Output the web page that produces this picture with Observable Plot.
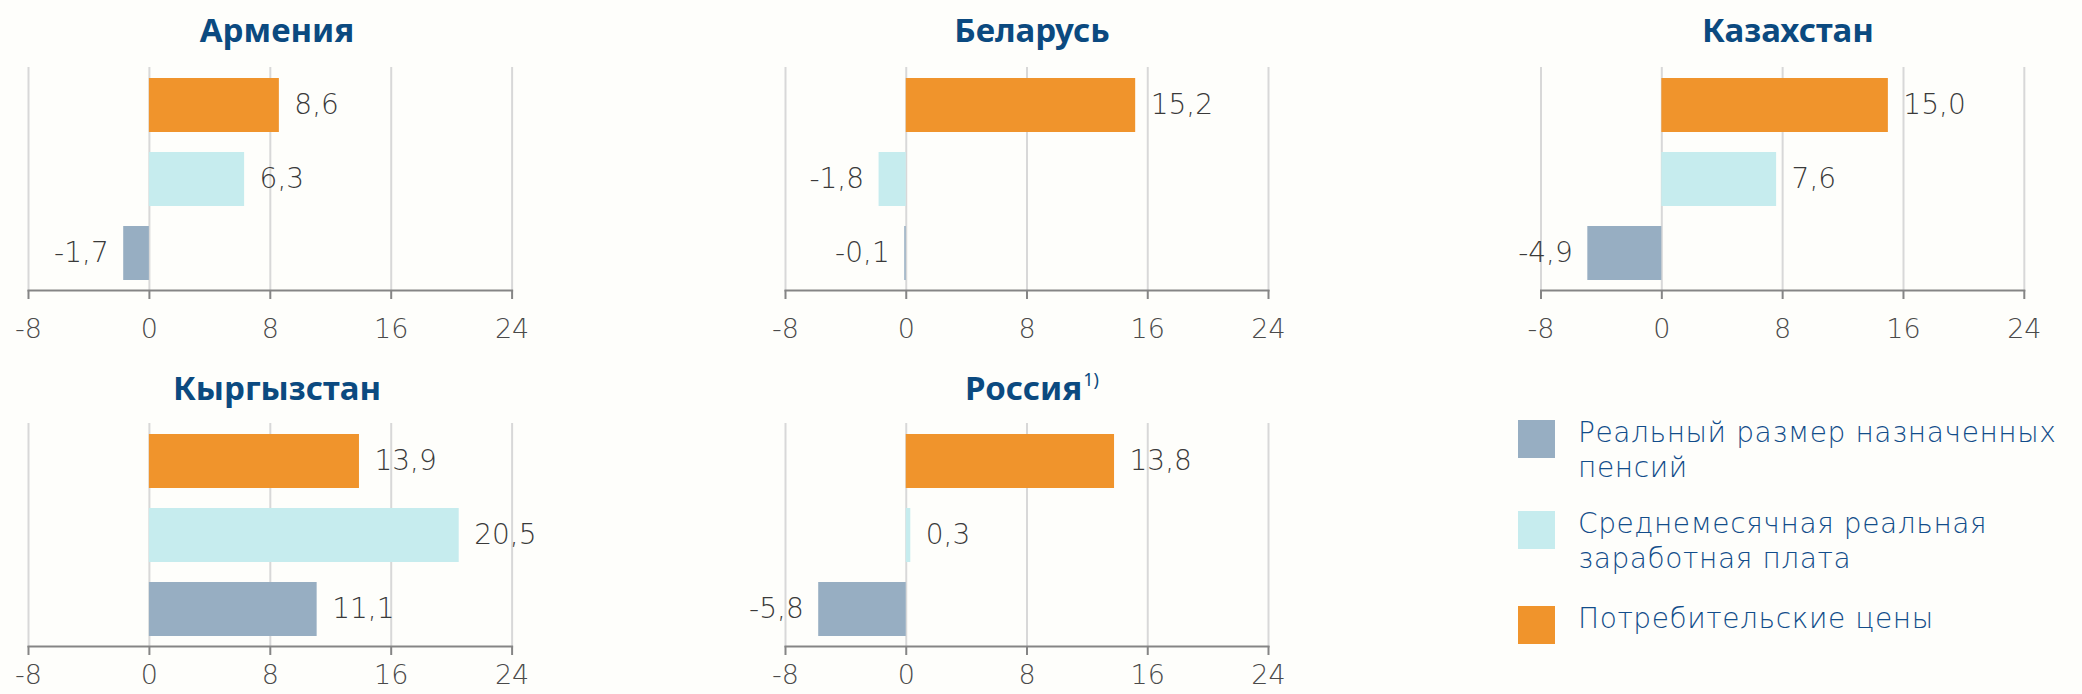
<!DOCTYPE html>
<html>
<head>
<meta charset="utf-8">
<script src="https://cdn.jsdelivr.net/npm/d3@7"></script>
<script src="https://cdn.jsdelivr.net/npm/@observablehq/plot@0.6"></script>
<style>
  html, body { margin: 0; padding: 0; background: #fefefb; }
  #root { position: relative; width: 2082px; height: 694px; overflow: hidden; background: #fefefb; }
  .panel { position: absolute; }
  .title { position: absolute; transform: translate(-50%, -50%); white-space: nowrap;
           font-family: "Noto Sans", "DejaVu Sans", sans-serif; font-weight: 700; font-size: 33px; color: #0b4a80; }
  .title sup { font-size: 18px; font-weight: 400; vertical-align: 0; position: relative; top: -14px; margin-left: 1px; }
  .lg-sw { position: absolute; width: 37px; height: 38px; }
  .lg-tx { position: absolute; font-family: "DejaVu Sans", sans-serif; font-weight: 200; font-size: 28px;
           line-height: 35px; color: #124d8a; white-space: nowrap; letter-spacing: 0.6px; }
</style>
</head>
<body>
<div id="root"></div>
<script>
// ---- data ----
const countries = ["Армения", "Беларусь", "Казахстан", "Кыргызстан", "Россия"];
const seriesNames = ["Потребительские цены", "Среднемесячная реальная заработная плата", "Реальный размер назначенных пенсий"];
const seriesColors = ["#f0942c", "#c6ecee", "#97aec2"];
const cpiValues     = [8.6, 15.2, 15.0, 13.9, 13.8];
const wageValues    = [6.3, -1.8, 7.6, 20.5, 0.3];
const pensionValues = [-1.7, -0.1, -4.9, 11.1, -5.8];
const xTicks = [-8, 0, 8, 16, 24];
const titleNotes = ["", "", "", "", "1)"];
const legendOrder = [2, 1, 0];
const legendLines = [["Потребительские цены"], ["Среднемесячная реальная", "заработная плата"], ["Реальный размер назначенных", "пенсий"]];

// ---- layout ----
const panels = [
  {left: 0,    top: 45,  width: 560, ml: 28,   mr: 48.4, tx: 277,  ty: 29,  pad: 19},
  {left: 740,  top: 45,  width: 560, ml: 45,   mr: 32,   tx: 1032, ty: 29,  pad: 19},
  {left: 1500, top: 45,  width: 582, ml: 40.5, mr: 58.2, tx: 1788, ty: 29,  pad: 19},
  {left: 0,    top: 401, width: 560, ml: 28,   mr: 48.4, tx: 277,  ty: 387, pad: 9},
  {left: 740,  top: 401, width: 560, ml: 45,   mr: 32,   tx: 1032, ty: 387, pad: 9}
];

const root = document.getElementById("root");
const fmt = v => v.toFixed(1).replace(".", ",");
const numFont = "'DejaVu Sans', sans-serif";

countries.forEach((c, i) => {
  const vals = [cpiValues[i], wageValues[i], pensionValues[i]];
  const data = seriesNames.map((s, k) => ({series: s, value: vals[k]}));
  const p = panels[i];
  const chart = Plot.plot({
    width: p.width, height: 300,
    marginLeft: p.ml, marginRight: p.mr, marginTop: 22, marginBottom: 55,
    style: {background: "transparent", fontFamily: numFont, fontSize: "26px", fontWeight: 200, color: "#444", overflow: "visible"},
    x: {domain: [-8, 24], label: null},
    y: {domain: seriesNames, axis: null, paddingInner: 0.275, paddingOuter: 0.135},
    color: {domain: seriesNames, range: seriesColors},
    marks: [
      Plot.ruleX(xTicks, {stroke: "#d8d8d8", strokeWidth: 2}),
      Plot.barX(data, {x: "value", y: "series", fill: "series"}),
      Plot.text(data.filter(d => d.value >= 0), {x: "value", y: "series", text: d => fmt(d.value), textAnchor: "start", dx: 15, fill: "#3a3a3a", fontSize: 28}),
      Plot.text(data.filter(d => d.value < 0), {x: "value", y: "series", text: d => fmt(d.value), textAnchor: "end", dx: -15, fill: "#3a3a3a", fontSize: 28}),
      Plot.frame({anchor: "bottom", stroke: "#858585", strokeWidth: 2}),
      Plot.axisX({ticks: xTicks, tickFormat: d => String(d), tickSize: 9, tickPadding: p.pad, stroke: "#858585", strokeWidth: 2, fill: "#4a4a4a", fontSize: 27})
    ]
  });
  const div = document.createElement("div");
  div.className = "panel";
  div.style.left = p.left + "px";
  div.style.top = p.top + "px";
  div.appendChild(chart);
  root.appendChild(div);

  const t = document.createElement("div");
  t.className = "title";
  t.style.left = p.tx + "px";
  t.style.top = p.ty + "px";
  t.textContent = c;
  if (titleNotes[i]) {
    const s = document.createElement("sup");
    s.textContent = titleNotes[i];
    t.appendChild(s);
  }
  root.appendChild(t);
});

// ---- legend ----
const legendTops = [420, 511, 606];
legendOrder.forEach((k, j) => {
  const sw = document.createElement("div");
  sw.className = "lg-sw";
  sw.style.left = "1518px";
  sw.style.top = legendTops[j] + "px";
  sw.style.background = seriesColors[k];
  root.appendChild(sw);
  const tx = document.createElement("div");
  tx.className = "lg-tx";
  tx.style.left = "1578px";
  tx.style.top = (legendTops[j] - 5) + "px";
  tx.innerHTML = legendLines[k].join("<br>");
  root.appendChild(tx);
});
</script>
</body>
</html>
